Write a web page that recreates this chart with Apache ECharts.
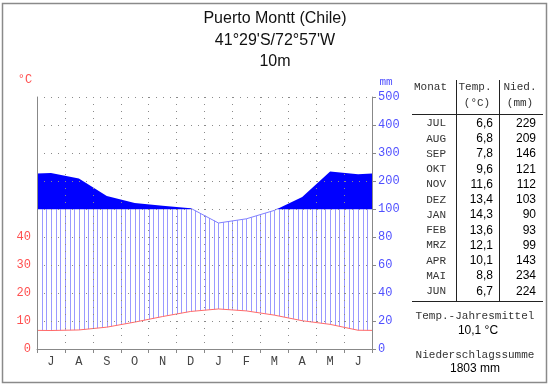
<!DOCTYPE html>
<html>
<head>
<meta charset="utf-8">
<script src="https://cdn.jsdelivr.net/npm/echarts@6/dist/echarts.min.js"></script>
<style>html,body{margin:0;padding:0;background:#fff}#c{width:550px;height:384px}</style>
</head>
<body>
<div id="c"></div>
<script>
// ---- data ----
const tableMonths = ['JUL','AUG','SEP','OKT','NOV','DEZ','JAN','FEB','MRZ','APR','MAI','JUN'];
const axisMonths = ['J','A','S','O','N','D','J','F','M','A','M','J'];
const temp = [6.6, 6.8, 7.8, 9.6, 11.6, 13.4, 14.3, 13.6, 12.1, 10.1, 8.8, 6.7];
const precip = [229, 209, 146, 121, 112, 103, 90, 93, 99, 143, 234, 224];
const leftTickLabels = ['0','10','20','30','40'];
const rightTickLabels = ['0','20','40','60','80','100','200','300','400','500'];
const titleLines = ['Puerto Montt (Chile)', "41°29'S/72°57'W", '10m'];
const annualMeanTemp = '10,1 °C';
const annualPrecip = '1803 mm';

// ---- helpers ----
const MONO = '"Liberation Mono", monospace';
const SANS = '"Liberation Sans", Arial, sans-serif';
function pu(p){ return p <= 100 ? p/2 : 50 + (p-100)/10; }
function withEdges(vals, f){
  const pts = [];
  const edge = f((vals[0] + vals[vals.length-1]) / 2);
  pts.push([0, edge]);
  vals.forEach((v,i) => pts.push([i + 0.5, f(v)]));
  pts.push([12, edge]);
  return pts;
}
const tPts = withEdges(temp, v => v);
const pPts = withEdges(precip, v => pu(v));
function interp(pts, x){
  for (let i = 0; i < pts.length-1; i++){
    const a = pts[i], b = pts[i+1];
    if (x >= a[0] && x <= b[0]) {
      return a[1] + (b[1]-a[1]) * (x-a[0]) / (b[0]-a[0]);
    }
  }
  return pts[pts.length-1][1];
}
function fmt(v){ return v.toFixed(1).replace('.', ','); }

const chart = echarts.init(document.getElementById('c'));

function renderPrecip(params, api){
  const children = [];
  // hatch lines (humid period)
  for (let k = 0; k <= 72; k++){
    const xv = k / 6;
    const t = interp(tPts, xv);
    const p = Math.min(interp(pPts, xv), 50);
    if (p > t){
      const a = api.coord([xv, t]), b = api.coord([xv, p]);
      const xx = Math.round(a[0]) + 0.5;
      children.push({type:'line', shape:{x1:xx, y1:a[1], x2:xx, y2:b[1]},
        style:{stroke:'#9a9aff', lineWidth:1}});
    }
  }
  // build point lists with crossings at 50
  const fillPts = [], linePts = [];
  for (let i = 0; i < pPts.length; i++){
    const cur = pPts[i];
    if (i > 0){
      const prev = pPts[i-1];
      if ((prev[1]-50)*(cur[1]-50) < 0){
        const xc = prev[0] + (50-prev[1])*(cur[0]-prev[0])/(cur[1]-prev[1]);
        fillPts.push(api.coord([xc, 50]));
        linePts.push(api.coord([xc, 50]));
      }
    }
    fillPts.push(api.coord([cur[0], Math.max(cur[1], 50)]));
    linePts.push(api.coord([cur[0], Math.min(cur[1], 50)]));
  }
  fillPts.push(api.coord([12, 50]));
  fillPts.push(api.coord([0, 50]));
  children.push({type:'polyline', shape:{points:linePts}, style:{stroke:'#8080ff', lineWidth:1, fill:null}});
  children.push({type:'polygon', shape:{points:fillPts}, style:{fill:'#0000ff', stroke:null}});
  return {type:'group', children};
}

// ---- graphic texts (title, table) ----
const graphic = [];
graphic.push({type:'rect', shape:{x:2.5, y:3.5, width:544, height:379}, style:{fill:null, stroke:'#8a8a8a', lineWidth:1.5}, silent:true});
titleLines.forEach((s,i) => graphic.push({type:'text', x:275, y:19 + i*21.5,
  style:{text:s, font:'16px ' + SANS, fill:'#111', textAlign:'center', textVerticalAlign:'middle'}}));
graphic.push({type:'text', x:25, y:80, style:{text:'°C', font:'12px ' + MONO, fill:'#ff5050', textAlign:'center', textVerticalAlign:'middle'}});
graphic.push({type:'text', x:386, y:82, style:{text:'mm', font:'11px ' + MONO, fill:'#5050ff', textAlign:'center', textVerticalAlign:'middle'}});
// table header
[['Monat',430.5,87],['Temp.',475,87],['(°C)',477,103],['Nied.',520,87],['(mm)',520,103]].forEach(h =>
  graphic.push({type:'text', x:h[1], y:h[2], style:{text:h[0], font:'11px ' + MONO, fill:'#333', textAlign:'center', textVerticalAlign:'middle'}}));
// table lines
graphic.push({type:'line', shape:{x1:412, y1:114.5, x2:543, y2:114.5}, style:{stroke:'#222', lineWidth:1}});
graphic.push({type:'line', shape:{x1:412, y1:301.5, x2:543, y2:301.5}, style:{stroke:'#222', lineWidth:1}});
graphic.push({type:'line', shape:{x1:456.5, y1:80, x2:456.5, y2:301}, style:{stroke:'#222', lineWidth:1}});
graphic.push({type:'line', shape:{x1:499.5, y1:80, x2:499.5, y2:301}, style:{stroke:'#222', lineWidth:1}});
// table rows
tableMonths.forEach((m,i) => {
  const y = 123.5 + i*15.25;
  graphic.push({type:'text', x:446, y:y, style:{text:m, font:'11px ' + MONO, fill:'#333', textAlign:'right', textVerticalAlign:'middle'}});
  graphic.push({type:'text', x:493, y:y, style:{text:fmt(temp[i]), font:'12px ' + SANS, fill:'#000', textAlign:'right', textVerticalAlign:'middle'}});
  graphic.push({type:'text', x:536, y:y, style:{text:String(precip[i]), font:'12px ' + SANS, fill:'#000', textAlign:'right', textVerticalAlign:'middle'}});
});
graphic.push({type:'text', x:475, y:316, style:{text:'Temp.-Jahresmittel', font:'11px ' + MONO, fill:'#333', textAlign:'center', textVerticalAlign:'middle'}});
graphic.push({type:'text', x:478, y:331, style:{text:annualMeanTemp, font:'12px ' + SANS, fill:'#000', textAlign:'center', textVerticalAlign:'middle'}});
graphic.push({type:'text', x:475, y:355, style:{text:'Niederschlagssumme', font:'11px ' + MONO, fill:'#333', textAlign:'center', textVerticalAlign:'middle'}});
graphic.push({type:'text', x:475, y:369, style:{text:annualPrecip, font:'12px ' + SANS, fill:'#000', textAlign:'center', textVerticalAlign:'middle'}});

const dotted = {show:true, lineStyle:{color:'#8a8a8a', type:[1,6], width:1}};

chart.setOption({
  animation:false,
  backgroundColor:'#fff',
  grid:{left:37, right:178, top:97, bottom:35},
  xAxis:[
    {type:'category', data:axisMonths, boundaryGap:true, z:3,
     axisLine:{lineStyle:{color:'#888'}},
     axisTick:{show:true, length:4, lineStyle:{color:'#888'}},
     axisLabel:{color:'#444', fontFamily:'Liberation Mono', fontSize:12, margin:7, interval:0},
     splitLine:{show:true, interval:0, lineStyle:{color:'#8a8a8a', type:[1,6], width:1}}},
    {type:'value', min:0, max:12, show:false}
  ],
  yAxis:[
    {type:'value', min:0, max:90, interval:10, position:'left', z:3,
     axisLine:{show:true, lineStyle:{color:'#888'}},
     axisTick:{show:false},
     axisLabel:{color:'#ff5050', fontFamily:'Liberation Mono', fontSize:12, margin:6,
       formatter: v => (v/10 < leftTickLabels.length ? leftTickLabels[v/10] : '')},
     splitLine:dotted},
    {type:'value', min:0, max:90, interval:10, position:'right', z:3,
     axisLine:{show:true, lineStyle:{color:'#888'}},
     axisTick:{show:true, length:4, lineStyle:{color:'#888'}},
     axisLabel:{color:'#5050ff', fontFamily:'Liberation Mono', fontSize:12, margin:6,
       formatter: v => rightTickLabels[Math.round(v/10)] || ''},
     splitLine:{show:false}}
  ],
  series:[
    {type:'custom', xAxisIndex:1, yAxisIndex:0, z:1, data:[[0,0]], renderItem:renderPrecip, silent:true},
    {type:'line', xAxisIndex:1, yAxisIndex:0, z:2, data:tPts, showSymbol:false, symbol:'none',
     lineStyle:{color:'#ff6a6a', width:1}, silent:true}
  ],
  graphic: graphic
});
</script>
</body>
</html>
